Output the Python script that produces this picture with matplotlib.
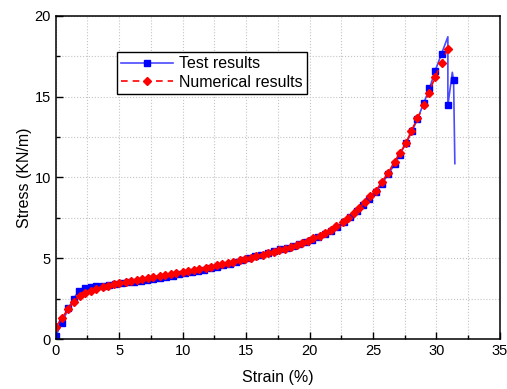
import numpy as np
import matplotlib.pyplot as plt
from matplotlib.ticker import MultipleLocator

plt.rcParams['font.family'] = ['Liberation Sans', 'DejaVu Sans']

# test results (strain %, stress kN/m)
test_x = [0.0, 0.5, 1.0, 1.4, 1.8, 2.3, 2.8, 3.2, 3.7, 4.2, 4.7, 5.2, 5.7, 6.2, 6.7,
          7.2, 7.7, 8.2, 8.7, 9.2, 9.7, 10.2, 10.7, 11.2, 11.7, 12.2, 12.7, 13.2,
          13.7, 14.2, 14.7, 15.2, 15.7, 16.2, 16.7, 17.2, 17.7, 18.2, 18.7, 19.2,
          19.7, 20.2, 20.7, 21.2, 21.7, 22.2, 22.7, 23.2, 23.7, 24.2, 24.7, 25.2,
          25.7, 26.2, 26.7, 27.1, 27.6, 28.1, 28.5, 29.0, 29.45, 29.9, 30.4, 30.9,
          30.9, 31.25, 31.35, 31.45]
test_y = [0.2, 1.0, 1.9, 2.5, 2.95, 3.15, 3.2, 3.25, 3.3, 3.35, 3.4, 3.45, 3.5, 3.55,
          3.6, 3.65, 3.72, 3.8, 3.85, 3.92, 4.0, 4.07, 4.15, 4.22, 4.3, 4.38, 4.47,
          4.55, 4.65, 4.75, 4.88, 5.02, 5.12, 5.22, 5.33, 5.43, 5.55, 5.65, 5.78,
          5.9, 6.02, 6.15, 6.3, 6.5, 6.7, 6.95, 7.25, 7.55, 7.9, 8.3, 8.65, 9.1,
          9.6, 10.2, 10.8, 11.4, 12.1, 12.9, 13.6, 14.6, 15.5, 16.6, 17.65, 18.7,
          14.45, 16.5, 16.0, 10.85]
# points that carry no marker: the two peaks and the final drop
test_nomark = [63, 65, 67]

# numerical results
num_x = [0.0, 0.5, 0.95, 1.4, 1.9, 2.3, 2.8, 3.2, 3.7, 4.1, 4.6, 5.0, 5.5, 5.9, 6.4,
         6.8, 7.3, 7.7, 8.2, 8.6, 9.1, 9.5, 10.0, 10.4, 10.9, 11.3, 11.8, 12.2,
         12.7, 13.1, 13.6, 14.0, 14.5, 14.9, 15.4, 15.8, 16.3, 16.7, 17.2, 17.6,
         18.1, 18.5, 19.0, 19.4, 19.9, 20.3, 20.8, 21.2, 21.7, 22.1, 22.6, 23.0,
         23.5, 23.9, 24.4, 24.8, 25.2, 25.7, 26.2, 26.7, 27.1, 27.6, 28.0, 28.5,
         29.0, 29.4, 29.9, 30.4, 30.9]
num_y = [0.75, 1.3, 1.85, 2.3, 2.65, 2.85, 3.0, 3.1, 3.2, 3.3, 3.38, 3.45, 3.52, 3.58,
         3.65, 3.72, 3.78, 3.85, 3.9, 3.97, 4.03, 4.1, 4.15, 4.22, 4.28, 4.35, 4.42,
         4.48, 4.55, 4.62, 4.7, 4.78, 4.86, 4.95, 5.03, 5.12, 5.2, 5.3, 5.4, 5.5,
         5.6, 5.7, 5.82, 5.95, 6.08, 6.22, 6.38, 6.55, 6.75, 6.97, 7.22, 7.5, 7.8,
         8.12, 8.48, 8.85, 9.15, 9.7, 10.3, 10.95, 11.5, 12.1, 12.85, 13.65, 14.45,
         15.25, 16.2, 17.1, 17.95]

fig = plt.figure(figsize=(5.07, 3.89), dpi=100)
ax = fig.add_axes([0.110, 0.1285, 0.876, 0.831])

marks = [i for i in range(len(test_x)) if i not in test_nomark]
ax.plot(test_x, test_y, color='#4a4aff', lw=1.2, marker='s', ms=3.8,
        mfc='blue', mec='blue', markevery=marks, label='Test results')
ax.plot(num_x, num_y, color='red', lw=1.2, ls='--', dashes=(4, 3), marker='D',
        ms=4.2, mfc='red', mec='red', label='Numerical results')

ax.set_xlim(0, 35)
ax.set_ylim(0, 20)
ax.xaxis.set_major_locator(MultipleLocator(5))
ax.xaxis.set_minor_locator(MultipleLocator(2.5))
ax.yaxis.set_major_locator(MultipleLocator(5))
ax.yaxis.set_minor_locator(MultipleLocator(2.5))
ax.tick_params(which='both', direction='in', labelsize=10.5, top=False, right=False)
ax.tick_params(which='major', length=5, width=1)
ax.tick_params(which='minor', length=3, width=1)
ax.grid(True, which='both', ls=':', color='#c4c4c4', lw=0.8)
ax.set_axisbelow(True)
for s in ax.spines.values():
    s.set_linewidth(1.1)

ax.set_xlabel('Strain (%)', fontsize=11.5, labelpad=9)
ax.set_ylabel('Stress (KN/m)', fontsize=11.5, labelpad=2)

leg = ax.legend(loc='upper left', bbox_to_anchor=(0.137, 0.889), fontsize=11.5,
                fancybox=False, framealpha=1, edgecolor='black', borderpad=0.3,
                handlelength=3.2, labelspacing=0.2, borderaxespad=0, handletextpad=0.4)
leg.get_frame().set_linewidth(1.0)

fig.savefig('out.png', dpi=100)
